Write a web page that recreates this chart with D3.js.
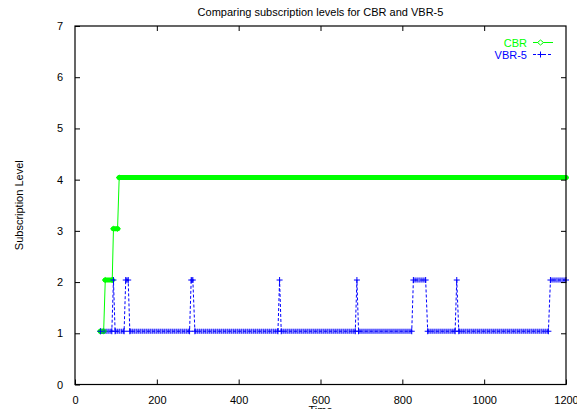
<!DOCTYPE html>
<html>
<head>
<meta charset="utf-8">
<script src="https://cdn.jsdelivr.net/npm/d3@7"></script>
<style>
  body { margin: 0; background: #fff; }
  text { font-family: "Liberation Sans", Arial, sans-serif; }
</style>
</head>
<body>
<div id="chart"></div>
<script>
// values (time, subscription level)
const cbrTime = [62, 70, 74, 91, 94, 104, 108, 1200]
const cbrLevel = [1.04, 1.04, 2.04, 2.04, 3.04, 3.04, 4.04, 4.04]

const vbrTime = [62, 90, 94, 98, 120, 124, 130, 134, 280, 284, 288, 293, 496, 500, 504,
  685, 689, 693, 823, 827, 857, 862, 929, 933, 938, 1157, 1162, 1200]
const vbrLevel = [1.04, 1.04, 2.04, 1.04, 1.04, 2.04, 2.04, 1.04, 1.04, 2.04, 2.04, 1.04, 1.04, 2.04, 1.04,
  1.04, 2.04, 1.04, 1.04, 2.04, 2.04, 1.04, 1.04, 2.04, 1.04, 1.04, 2.04, 2.04]

const xTicks = [0, 200, 400, 600, 800, 1000, 1200]
const yTicks = [0, 1, 2, 3, 4, 5, 6, 7]

const title = "Comparing subscription levels for CBR and VBR-5"
const seriesNames = ["CBR", "VBR-5"]

;(() => {

  let svg = d3.select("#chart")
  .append("svg")
  .attr("width", 577)
  .attr("height", 409)

  let margin = {top: 26, right: 11, bottom: 24.5, left: 75}
  let width = 577 - margin.left - margin.right
  let height = 409 - margin.top - margin.bottom

  let x = d3.scaleLinear()
  .domain([0, 1200])
  .range([margin.left, margin.left + width])

  let y = d3.scaleLinear()
  .domain([0, 7])
  .range([margin.top + height, margin.top])

  let cbr = cbrTime.map((t, i) => ({t: t, v: cbrLevel[i]}))
  let vbr = vbrTime.map((t, i) => ({t: t, v: vbrLevel[i]}))

  // flat runs, where the dense markers pile up into a band
  let runs = data => data.slice(1)
  .map((d, i) => [data[i], d])
  .filter(p => p[0].v === p[1].v)

  let line = d3.line().x(d => x(d.t)).y(d => y(d.v))

  let plot = svg.append("g")

  // CBR band + line
  plot.selectAll(".cbr-band")
  .data(runs(cbr))
  .enter()
  .append("path")
  .attr("d", line)
  .attr("stroke", "#00ff00")
  .attr("stroke-width", 5)
  .attr("stroke-linecap", "round")
  .attr("fill", "none")

  plot.append("path")
  .attr("d", line(cbr))
  .attr("stroke", "#00ff00")
  .attr("stroke-width", 1)
  .attr("fill", "none")

  // VBR band + dashed line
  plot.selectAll(".vbr-band")
  .data(runs(vbr))
  .enter()
  .append("path")
  .attr("d", line)
  .attr("stroke", "#0000ff")
  .attr("stroke-opacity", 0.35)
  .attr("stroke-width", 5)
  .attr("fill", "none")

  plot.selectAll(".vbr-ticks")
  .data(runs(vbr))
  .enter()
  .append("path")
  .attr("d", line)
  .attr("stroke", "#0000ff")
  .attr("stroke-opacity", 0.7)
  .attr("stroke-width", 5)
  .attr("stroke-dasharray", "1,1")
  .attr("fill", "none")

  plot.append("path")
  .attr("d", line(vbr))
  .attr("stroke", "#0000ff")
  .attr("stroke-width", 1)
  .attr("stroke-dasharray", "3,2")
  .attr("fill", "none")

  // markers
  let diamond = "M-3,0L0,-2.5L3,0L0,2.5Z"
  let plus = "M-3,0H3M0,-3V3"

  plot.selectAll(".cbr-pt")
  .data(cbr)
  .enter()
  .append("path")
  .attr("transform", d => "translate(" + x(d.t) + "," + y(d.v) + ")")
  .attr("d", diamond)
  .attr("stroke", "#00ff00")
  .attr("fill", "none")

  plot.selectAll(".vbr-pt")
  .data(vbr)
  .enter()
  .append("path")
  .attr("transform", d => "translate(" + x(d.t) + "," + y(d.v) + ")")
  .attr("d", plus)
  .attr("stroke", "#0000ff")
  .attr("fill", "none")

  // frame
  svg.append("rect")
  .attr("x", margin.left)
  .attr("y", margin.top)
  .attr("width", width)
  .attr("height", height)
  .attr("fill", "none")
  .attr("stroke", "#000")
  .attr("stroke-width", 1.2)

  // axes, ticks pointing inside on all four sides
  svg.append("g")
  .attr("transform", "translate(0," + (margin.top + height) + ")")
  .call(d3.axisBottom(x).tickValues(xTicks).tickFormat(d3.format("d")).tickSizeInner(-5).tickSizeOuter(0).tickPadding(12))
  .call(g => g.select(".domain").remove())

  svg.append("g")
  .attr("transform", "translate(0," + margin.top + ")")
  .call(d3.axisTop(x).tickValues(xTicks.slice(1, -1)).tickSizeInner(-5).tickSizeOuter(0).tickFormat(""))
  .call(g => g.select(".domain").remove())

  svg.append("g")
  .attr("transform", "translate(" + margin.left + ",0)")
  .call(d3.axisLeft(y).tickValues(yTicks).tickFormat(d3.format("d")).tickSizeInner(-5).tickSizeOuter(0).tickPadding(12))
  .call(g => g.select(".domain").remove())

  svg.append("g")
  .attr("transform", "translate(" + (margin.left + width) + ",0)")
  .call(d3.axisRight(y).tickValues(yTicks.slice(1, -1)).tickSizeInner(-5).tickSizeOuter(0).tickFormat(""))
  .call(g => g.select(".domain").remove())

  svg.selectAll(".tick text")
  .style("font-size", "11px")
  .style("font-family", "Liberation Sans, Arial, sans-serif")
  .attr("fill", "#000")

  // title and axis labels
  svg.append("text")
  .attr("x", margin.left + width / 2)
  .attr("y", 16)
  .text(title)
  .style("text-anchor", "middle")
  .style("font-size", "11px")

  svg.append("text")
  .attr("x", margin.left + width / 2)
  .attr("y", 414)
  .text("Time")
  .style("text-anchor", "middle")
  .style("font-size", "11px")

  svg.append("text")
  .attr("transform", "translate(23," + (margin.top + height / 2) + ") rotate(-90)")
  .text("Subscription Level")
  .style("text-anchor", "middle")
  .style("font-size", "11px")

  // legend
  let legend = svg.append("g")
  let colors = ["#00ff00", "#0000ff"]
  seriesNames.forEach((name, i) => {
    let ly = 42.5 + i * 12
    legend.append("text")
    .attr("x", 527)
    .attr("y", ly + 4)
    .text(name)
    .attr("fill", colors[i])
    .style("text-anchor", "end")
    .style("font-size", "11px")
    legend.append("line")
    .attr("x1", 533)
    .attr("x2", 553)
    .attr("y1", ly)
    .attr("y2", ly)
    .attr("stroke", colors[i])
    .attr("stroke-dasharray", i ? "3,2" : null)
    legend.append("path")
    .attr("transform", "translate(540.5," + ly + ")")
    .attr("d", i ? plus : diamond)
    .attr("stroke", colors[i])
    .attr("fill", i ? "none" : "#fff")
  })

})()
</script>
</body>
</html>
